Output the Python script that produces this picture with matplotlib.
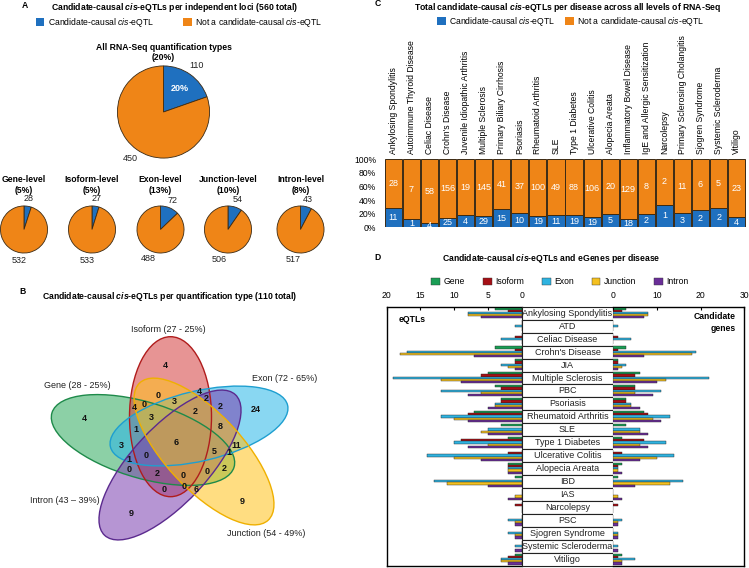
import numpy as np
import matplotlib
matplotlib.use("Agg")
import matplotlib.pyplot as plt
from matplotlib.patches import Ellipse, Rectangle, Patch

plt.rcParams['font.family'] = ['Liberation Sans', 'DejaVu Sans']
plt.rcParams['mathtext.fontset'] = 'custom'
plt.rcParams['mathtext.rm'] = 'Liberation Sans'
plt.rcParams['mathtext.it'] = 'Liberation Sans:italic'
plt.rcParams['mathtext.bf'] = 'Liberation Sans:bold'
plt.rcParams['mathtext.bfit'] = 'Liberation Sans:italic:bold'

# ---- data ----
# A: pies
pie_levels = ['Gene', 'Isoform', 'Exon', 'Junction', 'Intron']
pie_causal = [28, 27, 72, 54, 43]
pie_other = [532, 533, 488, 506, 517]
all_causal, all_other = 110, 450

# B: venn (per quantification type)
venn_sets = ['Gene', 'Isoform', 'Exon', 'Intron', 'Junction']
venn_sizes = [28, 27, 72, 43, 54]
venn_total = 110
venn_counts = [4, 24, 4, 9, 9, 0, 4, 2, 4, 0, 3, 2, 2, 3, 1, 8,
               6, 3, 11, 5, 1, 0, 1, 0, 2, 0, 0, 2, 0, 0, 6]

# C: candidate-causal per disease
c_diseases = ['Ankylosing Spondylitis', 'Autoimmune Thyroid Disease', 'Celiac Disease',
              "Crohn's Disease", 'Juvenile Idiopathic Arthritis', 'Multiple Sclerosis',
              'Primary Biliary Cirrhosis', 'Psoriasis', 'Rheumatoid Arthritis', 'SLE',
              'Type 1 Diabetes', 'Ulcerative Colitis', 'Alopecia Areata',
              'Inflammatory Bowel Disease', 'IgE and Allergic Sensitization', 'Narcolepsy',
              'Primary Sclerosing Cholangitis', 'Sjogren Syndrome', 'Systemic Scleroderma',
              'Vitiligo']
c_causal = [11, 1, 4, 25, 4, 29, 15, 10, 19, 11, 19, 19, 5, 18, 2, 1, 3, 2, 2, 4]
c_other = [28, 7, 58, 156, 19, 145, 41, 37, 100, 49, 88, 106, 20, 129, 8, 2, 11, 6, 5, 23]

# D: eQTLs and candidate genes per disease and level
d_diseases = ['Ankylosing Spondylitis', 'ATD', 'Celiac Disease', "Crohn's Disease", 'JIA',
              'Multiple Sclerosis', 'PBC', 'Psoriasis', 'Rheumatoid Arthritis', 'SLE',
              'Type 1 Diabetes', 'Ulcerative Colitis', 'Alopecia Areata', 'IBD', 'IAS',
              'Narcolepsy', 'PSC', 'Sjogren Syndrome', 'Systemic Scleroderma', 'Vitiligo']
eqtl_gene     = [4, 0, 0, 4, 1, 5, 4, 3, 7, 3, 2, 0, 2, 1, 0, 0, 0, 0, 0, 1]
eqtl_isoform  = [2, 0, 1, 1, 1, 6, 3, 3, 8, 0, 9, 2, 2, 0, 0, 1, 0, 0, 0, 2]
eqtl_exon     = [8, 1, 3, 17, 3, 19, 12, 4, 12, 5, 10, 14, 2, 13, 0, 0, 2, 2, 1, 3]
eqtl_junction = [8, 0, 0, 18, 2, 12, 6, 4, 10, 6, 5, 10, 2, 11, 1, 0, 1, 1, 0, 3]
eqtl_intron   = [6, 0, 0, 7, 1, 9, 8, 5, 8, 5, 8, 6, 2, 5, 2, 0, 1, 1, 1, 2]
cand_gene     = [3, 0, 0, 3, 1, 6, 5, 3, 7, 3, 2, 0, 2, 1, 0, 0, 0, 0, 0, 2]
cand_isoform  = [2, 0, 1, 1, 1, 5, 5, 3, 8, 0, 7, 2, 1, 0, 0, 1, 0, 0, 0, 1]
cand_exon     = [8, 1, 4, 19, 3, 22, 11, 4, 13, 6, 12, 14, 1, 16, 0, 0, 2, 1, 1, 5]
cand_junction = [8, 0, 0, 18, 2, 12, 5, 4, 9, 6, 6, 10, 1, 13, 1, 0, 1, 1, 0, 2]
cand_intron   = [7, 0, 0, 7, 1, 10, 9, 6, 11, 8, 8, 6, 2, 5, 2, 0, 1, 1, 1, 2]

# ---- style / layout ----
W, H = 749, 568
BLUE, ORANGE, EDGE = '#1f70bf', '#ef8517', '#3b2a14'
lvl_colors = ['#1a9e55', '#a50f15', '#2fb3e0', '#f4c020', '#6a2e98']
FS = 6.2

fig = plt.figure(figsize=(W / 100, H / 100), dpi=100)


def fx(x):
    return x / W


def fy(y):
    return 1 - y / H


def box(x0, y0, x1, y1):
    # axes from a pixel box, origin top-left
    return fig.add_axes([x0 / W, 1 - y1 / H, (x1 - x0) / W, (y1 - y0) / H])


def ftext(x, y, s, **kw):
    kw.setdefault('fontsize', FS)
    kw.setdefault('ha', 'center')
    kw.setdefault('va', 'center')
    return fig.text(fx(x), fy(y), s, **kw)


# ---- panel A ----
ftext(25, 5, 'A', fontweight='bold')
ftext(174, 7, r'Candidate-causal $\mathbfit{cis}$-eQTLs per independent loci (560 total)',
      fontweight='bold')
leg_handles = [Patch(facecolor=BLUE), Patch(facecolor=ORANGE)]
leg_labels = [r'Candidate-causal $\it{cis}$-eQTL', r'Not a candidate-causal $\it{cis}$-eQTL']
fig.legend(leg_handles, leg_labels, loc='center', bbox_to_anchor=(fx(179), fy(22.5)),
           ncol=2, frameon=False, fontsize=FS, handlelength=1.0, handleheight=1.0,
           handletextpad=0.4, columnspacing=3.4)


def draw_pie(cx, cy, r, causal, other, dist, big=False):
    ax = box(cx - r, cy - r, cx + r, cy + r)
    kw = dict(colors=[BLUE, ORANGE], startangle=90, counterclock=False,
              labels=[str(causal), str(other)], labeldistance=dist,
              wedgeprops=dict(edgecolor=EDGE, linewidth=0.6),
              textprops=dict(fontsize=6.5, color='#222222'))
    if big:
        kw['autopct'] = lambda p: f'{p:.0f}%' if p < 50 else ''
        kw['pctdistance'] = 0.62
        wedges, texts, autotexts = ax.pie([causal, other], **kw)
        for t in autotexts:
            t.set_color('white')
            t.set_fontweight('bold')
            t.set_fontsize(6.5)
    else:
        wedges, texts = ax.pie([causal, other], **kw)
    for t in texts:
        t.set_ha('center')
        t.set_va('center')
    ax.set_xlim(-1.02, 1.02)
    ax.set_ylim(-1.02, 1.02)
    return ax


all_pct = round(100 * all_causal / (all_causal + all_other))
ftext(163.5, 52.5, f'All RNA-Seq quantification types\n({all_pct}%)', fontweight='bold',
      linespacing=1.15)
draw_pie(163.5, 112, 47, all_causal, all_other, 1.25, big=True)

pie_cx = [24, 92, 160.5, 228, 300.5]
for name, cx, ca, ot in zip(pie_levels, pie_cx, pie_causal, pie_other):
    pct = round(100 * ca / (ca + ot))
    ftext(cx, 185, f'{name}-level\n({pct}%)', fontweight='bold', linespacing=1.15)
    draw_pie(cx, 229.5, 24, ca, ot, 1.32)

# ---- panel B: venn ----
ftext(22, 291.5, 'B', fontweight='bold')
ftext(169.5, 296.5, r'Candidate-causal $\mathbfit{cis}$-eQTLs per quantification type (110 total)',
      fontweight='bold')
axb = box(0, 280, 370, 568)
axb.set_xlim(0, 370)
axb.set_ylim(568, 280)
axb.axis('off')

# ellipse layout (cx, cy, major, minor, angle) in pixel units
venn_shapes = [(143, 440, 190, 76, 16.6),
               (170.5, 416.7, 160, 82, 90),
               (199, 426, 182, 70, -13.2),
               (170, 465, 192, 76, -47.1),
               (204, 451.5, 188, 76, 46.9)]
venn_fill = ['#2eaa5e', '#d43c3c', '#29b6e8', '#7a3fb0', '#ffc21a']
venn_edge = ['#1e8a4a', '#b01c1c', '#1e9fd0', '#5b2a8e', '#efb000']
for (cx, cy, w, h, a), fc, ec in zip(venn_shapes, venn_fill, venn_edge):
    axb.add_patch(Ellipse((cx, cy), w, h, angle=a, facecolor=fc, edgecolor='none', alpha=0.55))
for (cx, cy, w, h, a), fc, ec in zip(venn_shapes, venn_fill, venn_edge):
    axb.add_patch(Ellipse((cx, cy), w, h, angle=a, facecolor='none', edgecolor=ec, lw=1.0))

venn_label_xy = [(77, 385), (168.5, 329.5), (285, 378.5), (64.5, 500.5), (266, 534)]
venn_sep = [' - ', ' - ', ' - ', ' \u2013 ', ' - ']
for name, n, sep, (x, y) in zip(venn_sets, venn_sizes, venn_sep, venn_label_xy):
    axb.text(x, y, f'{name} ({n}{sep}{round(100 * n / venn_total)}%)', fontsize=6.5,
             ha='center', va='center', color='#222222')

venn_xy = [(165.7, 365), (256, 410), (84.3, 418.3), (131.7, 513.3), (242.7, 501.7),
           (158.3, 395), (199, 391.7), (206.7, 398.3), (134, 407.7), (144.3, 404.3),
           (174, 401.7), (195, 411), (220, 406.7), (151, 417.7), (135.7, 430),
           (220, 426.7), (175.7, 442.7), (121.7, 445), (236.7, 445), (214.3, 451),
           (228.7, 452.7), (145.7, 456), (129.3, 459.3), (129.3, 469), (157.3, 473.3),
           (183.3, 475), (206.7, 471.7), (224, 468.3), (164.3, 489), (184.3, 486.7),
           (196, 489)]
for n, (x, y) in zip(venn_counts, venn_xy):
    axb.text(x, y, str(n), fontsize=6.5, fontweight='bold', ha='center', va='center',
             color='#111111')

# ---- panel C ----
ftext(378, 4, 'C', fontweight='bold')
ftext(568, 7.5, r'Total candidate-causal $\mathbfit{cis}$-eQTLs per disease across all levels of RNA-Seq',
      fontweight='bold')
fig.legend(leg_handles, leg_labels, loc='center', bbox_to_anchor=(fx(571), fy(21.5)),
           ncol=2, frameon=False, fontsize=FS, handlelength=1.0, handleheight=1.0,
           handletextpad=0.4, columnspacing=1.1)

axc = box(384.3, 159.3, 745.7, 227.3)
xc = np.arange(len(c_diseases))
cc = np.array(c_causal, float)
co = np.array(c_other, float)
fc_ = cc / (cc + co)
fo_ = co / (cc + co)
axc.bar(xc, fc_, 0.95, color=BLUE, edgecolor=EDGE, lw=0.7)
axc.bar(xc, fo_, 0.95, bottom=fc_, color=ORANGE, edgecolor=EDGE, lw=0.7)
for i in range(len(xc)):
    axc.text(xc[i], fc_[i] / 2, str(c_causal[i]), color='white', fontsize=6.5,
             ha='center', va='center')
    axc.text(xc[i], fc_[i] + fo_[i] / 2, str(c_other[i]), color='white', fontsize=6.5,
             ha='center', va='center')
axc.set_xlim(-0.5, len(xc) - 0.5)
axc.set_ylim(0, 1)
axc.set_yticks(np.linspace(0, 1, 6))
axc.set_yticklabels([f'{v}%' for v in range(0, 101, 20)])
axc.xaxis.tick_top()
axc.set_xticks(xc)
axc.set_xticklabels(c_diseases, rotation=90)
axc.tick_params(axis='both', length=0, labelsize=FS)
axc.tick_params(axis='y', pad=6)
axc.tick_params(axis='x', pad=4)
for s in axc.spines.values():
    s.set_visible(False)

# ---- panel D ----
ftext(378, 258, 'D', fontweight='bold')
ftext(551, 258.5, r'Candidate-causal $\mathbfit{cis}$-eQTLs and eGenes per disease',
      fontweight='bold')
fig.legend([Patch(facecolor=c, edgecolor='#333333', lw=0.3) for c in lvl_colors], pie_levels,
           loc='center', bbox_to_anchor=(fx(560), fy(282)), ncol=5, frameon=False,
           fontsize=FS, handlelength=1.0, handleheight=1.0, handletextpad=0.4,
           columnspacing=2.1)

top, bot = 306.7, 566
axl = box(386.7, top, 521.7, bot)
axm = box(521.7, top, 613.3, bot)
axr = box(613.3, top, 744.3, bot)

rows = np.arange(len(d_diseases))
eqtl_levels = [eqtl_gene, eqtl_isoform, eqtl_exon, eqtl_junction, eqtl_intron]
cand_levels = [cand_gene, cand_isoform, cand_exon, cand_junction, cand_intron]
bh = 0.165
for j, (ev, gv, col) in enumerate(zip(eqtl_levels, cand_levels, lvl_colors)):
    yy = rows + 0.06 + bh * j + bh / 2
    axl.barh(yy, ev, height=bh, color=col, edgecolor='#222222', lw=0.3)
    axr.barh(yy, gv, height=bh, color=col, edgecolor='#222222', lw=0.3)

axl.set_xlim(20, 0)
axr.set_xlim(0, 30)
for ax, ticks in ((axl, [20, 15, 10, 5, 0]), (axr, [0, 10, 20, 30])):
    ax.set_ylim(len(rows), 0)
    ax.xaxis.tick_top()
    ax.set_xticks(ticks)
    ax.set_yticks([])
    ax.tick_params(axis='x', direction='in', length=2, labelsize=FS, pad=5)
    for s in ax.spines.values():
        s.set_linewidth(1.0)
axl.spines['right'].set_visible(False)
axr.spines['left'].set_visible(False)

axm.set_xlim(0, 1)
axm.set_ylim(len(rows), 0)
axm.axis('off')
for i, name in enumerate(d_diseases):
    axm.add_patch(Rectangle((0, i), 1, 1, facecolor='white', edgecolor='#222222', lw=0.8,
                            clip_on=False))
    axm.text(0.5, i + 0.5, name, fontsize=6.5, ha='center', va='center', color='#222222')

ftext(411.7, 319.3, 'eQTLs', fontweight='bold')
ftext(736, 322.5, 'Candidate\ngenes', fontweight='bold', ha='right', linespacing=1.3)

fig.savefig('out.png', dpi=100)
